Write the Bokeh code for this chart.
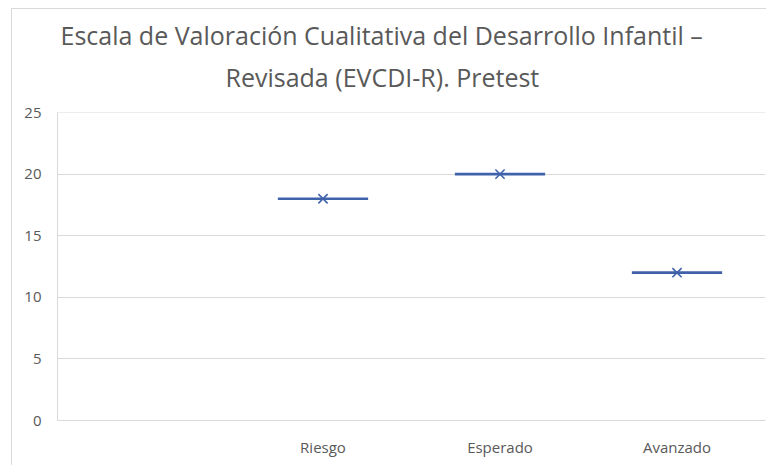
from bokeh.plotting import figure
from bokeh.models import FactorRange, Range1d, Title, FixedTicker, ColumnDataSource, Span
from bokeh.transform import dodge
from bokeh.embed import file_html
from bokeh.resources import INLINE

# Data
factors = [" ", "Riesgo", "Esperado", "Avanzado"]
categories = ["Riesgo", "Esperado", "Avanzado"]
values = [18, 20, 12]
y_ticks = [0, 5, 10, 15, 20, 25]
title_lines = ["Escala de Valoración Cualitativa del Desarrollo Infantil –",
               "Revisada (EVCDI-R). Pretest"]

BLUE = "#3f62aa"
GRAY_TXT = "#595959"
GRID = "#d9d9d9"
FONT = "Open Sans"

p = figure(width=755, height=457, x_range=FactorRange(*factors, range_padding=0),
           y_range=Range1d(0, 25), output_backend="svg", toolbar_location=None,
           min_border_left=45, min_border_right=2, min_border_top=103, min_border_bottom=46)
p.margin = (8, 0, 0, 11)
p.styles = {"border-left": "1px solid #d9d9d9", "border-top": "1px solid #d9d9d9"}
p.title = None
p.outline_line_color = None
p.background_fill_color = "white"
p.border_fill_color = "white"

src = ColumnDataSource(dict(cat=categories, val=values))
p.segment(x0=dodge("cat", -0.255, range=p.x_range), x1=dodge("cat", 0.255, range=p.x_range),
          y0="val", y1="val", source=src, line_color=BLUE, line_width=2.6)
p.scatter(x="cat", y="val", source=src, marker="x", size=13, line_color=BLUE, line_width=1.6)

p.xgrid.grid_line_color = None
p.ygrid.grid_line_color = GRID
p.ygrid.grid_line_width = 1
p.yaxis.ticker = FixedTicker(ticks=y_ticks)
p.add_layout(Span(location=y_ticks[-1], dimension="width", line_color=GRID, line_width=1))

for ax in (p.xaxis[0], p.yaxis[0]):
    ax.major_tick_line_color = None
    ax.minor_tick_line_color = None
    ax.major_label_text_color = GRAY_TXT
    ax.major_label_text_font = FONT
    ax.major_label_text_font_size = "15px"
p.yaxis.axis_line_color = GRID
p.xaxis.axis_line_color = GRID
p.yaxis.major_label_standoff = 10
p.xaxis.major_label_standoff = 10

# second line first (closest to plot), then first line
p.add_layout(Title(text=title_lines[1], align="left", offset=168, text_font=FONT,
                   text_font_size="25px", text_color=GRAY_TXT, text_font_style="normal",
                   standoff=38), "above")
p.add_layout(Title(text=title_lines[0], align="left", offset=3, text_font=FONT,
                   text_font_size="25px", text_color=GRAY_TXT, text_font_style="normal",
                   standoff=-26), "above")

open("out.html", "w").write(file_html(p, INLINE))
